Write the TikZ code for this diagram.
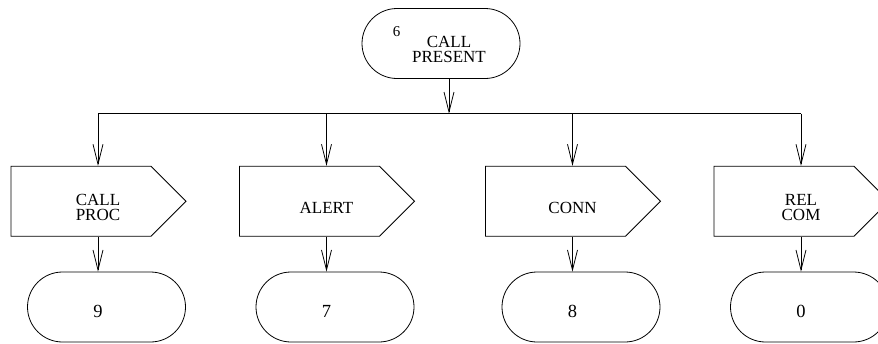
\documentclass[tikz,border=0pt]{standalone}
\usepackage{fontspec}
\setmainfont{Liberation Serif}
\usetikzlibrary{arrows.meta,shapes.misc,shapes.symbols}
\begin{document}
\begin{tikzpicture}[x=1pt,y=-1pt,
  line width=0.8pt,
  term/.style={draw, rounded rectangle, minimum width=158pt, minimum height=70pt, inner sep=0pt},
  sig/.style={draw, signal, signal to=east, signal pointer angle=90,
              minimum width=175pt, minimum height=70pt, inner sep=0pt},
  lbl/.style={font=\fontsize{17}{15}\selectfont, align=center, inner sep=0pt},
  num/.style={font=\fontsize{18.5}{18.5}\selectfont, inner sep=0pt},
  arr/.style={-{Straight Barb[length=20pt,width=10pt]}},
]
\useasboundingbox (0,0) rectangle (878,343);
\clip (0,0) rectangle (878,343);

% start state
\node[term] (top) at (441,43.5) {};
\node[lbl] (topl) at (449,49.5) {CALL\\PRESENT};
\node[font=\fontsize{15}{15}\selectfont, inner sep=0pt] (six) at (396.5,31.7) {6};
\coordinate (j) at (449,113.7);
\draw[arr] (top.south -| j) -- (j);

% branches: signal, then next state
\foreach \c/\n/\t/\d in {98/a/{CALL\\PROC}/9, 326.5/b/ALERT/7, 572.5/c/CONN/8, 801/d/{REL\\COM}/0}{
  \node[sig] (s\n) at (\c-17,201.3) {};
  \node[lbl] (l\n) at (\c,207.5) {\t};
  \node[term] (t\n) at (\c+8.5,307) {};
  \node[num] (n\n) at (\c,311) {\d};
  \draw[arr] (l\n |- j) -- (l\n |- s\n.north);
  \draw[arr] (l\n |- s\n.south) -- (l\n |- t\n.north);
}
\draw (la |- j) -- (ld |- j);
\end{tikzpicture}
\end{document}
